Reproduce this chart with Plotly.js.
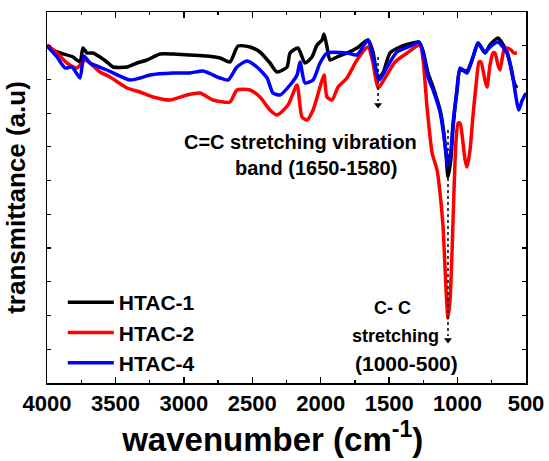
<!DOCTYPE html>
<html>
<head>
<meta charset="utf-8">
<script src="https://cdn.plot.ly/plotly-3.0.1.min.js"></script>
<style>html,body{margin:0;padding:0;background:#fff;}#chart{width:549px;height:461px;}</style>
</head>
<body>
<div id="chart"></div>
<script>
// Series names
const seriesNames = ["HTAC-1", "HTAC-2", "HTAC-4"];
const seriesColors = ["#000000", "#ff0000", "#0000ff"];

// HTAC-1 (black): wavenumber (cm-1) and transmittance (a.u.)
const wnHTAC1 = [4000,3956,3905,3810,3759,3737,3708,3664,3613,3562,3518,3415,3342,3269,3174,3079,2955,2831,2736,2663,2604,2517,2444,2371,2319,2246,2224,2166,2115,2064,2027,1990,1976,1954,1932,1881,1808,1735,1654,1618,1581,1545,1494,1421,1326,1282,1252,1216,1179,1128,1106,1084,1070,1048,1033,1004,982,931,887,850,800,763,705,639,610,595,580,566];
const trHTAC1 = [337,333,330,326,321,335,330,330,326,321,316,316,320,323,329,329,328,327,325,321,337,336,331,320,311,316,330,335,320,326,338,343,349,336,323,326,330,335,343,331,305,310,330,336,340,341,332,310,296,273,256,228,206,225,256,293,313,312,326,340,330,338,345,331,315,305,298,295];

// HTAC-2 (red)
const wnHTAC2 = [4000,3927,3854,3781,3722,3686,3613,3540,3415,3320,3225,3101,2977,2882,2787,2663,2612,2517,2444,2371,2319,2239,2173,2137,2100,2056,2005,1976,1954,1917,1873,1808,1735,1654,1618,1581,1530,1457,1369,1274,1252,1223,1186,1150,1128,1106,1084,1070,1055,1040,1026,1011,996,982,967,945,931,909,887,865,843,829,800,785,763,741,727,705,690,661,639,610,588,566];
const trHTAC2 = [338,330,320,315,323,320,311,306,295,291,286,283,288,290,283,281,293,293,286,273,268,278,298,266,263,273,296,308,286,283,296,305,323,336,320,295,305,321,330,338,323,276,230,213,190,156,93,65,83,133,193,243,260,260,248,223,216,233,268,298,321,321,303,296,318,330,330,318,313,333,335,333,330,330];

// HTAC-4 (blue)
const wnHTAC4 = [4000,3927,3868,3817,3759,3730,3686,3562,3394,3320,3247,3079,2955,2860,2736,2677,2612,2539,2466,2392,2349,2297,2224,2173,2151,2115,2056,2005,1954,1808,1735,1654,1618,1574,1515,1443,1326,1282,1252,1216,1179,1128,1106,1084,1070,1048,1033,1004,982,931,887,850,800,756,705,639,610,595,566,552,530,500];
const trHTAC4 = [337,326,315,316,305,327,320,313,303,305,308,310,310,312,305,303,316,322,316,305,290,288,298,308,321,300,303,320,330,330,328,343,326,303,316,331,338,341,330,306,293,271,253,230,216,233,260,293,315,310,326,340,331,337,341,330,316,305,280,273,282,290];

// x-axis tick labels
const xTickVals = [4000,3500,3000,2500,2000,1500,1000,500];
const xTickText = ["4000","3500","3000","2500","2000","1500","1000","500"];

// Annotation texts and marked bands (dotted line top, arrow tip)
const ccBandLines = ["C=C stretching vibration", "band (1650-1580)"];
const ccStretchLines = ["C- C", "stretching", "(1000-500)"];
const bandMarks = [1581, 1070];
const markTop = [326, 253];
const markTip = [278, 43];

const FONT = "Liberation Sans, Arial, sans-serif";
const xs = [wnHTAC1, wnHTAC2, wnHTAC4];
const ys = [trHTAC1, trHTAC2, trHTAC4];

const traces = seriesNames.map((n, i) => ({
  type: "scatter", mode: "lines", name: n,
  x: xs[i], y: ys[i],
  line: {color: seriesColors[i], width: 3.5, shape: "spline", smoothing: 0.6}
}));

// arrowheads at the end of the dotted marker lines
traces.push({
  type: "scatter", mode: "markers", showlegend: false, hoverinfo: "skip",
  x: bandMarks, y: markTip,
  marker: {symbol: "triangle-down", size: 7, color: "#000"}
});

const layout = {
  width: 549, height: 461,
  margin: {l: 47, r: 23, t: 12, b: 78},
  paper_bgcolor: "#fff", plot_bgcolor: "#fff",
  font: {family: FONT, color: "#000"},
  showlegend: true,
  legend: {
    x: 0.033, y: 0.272, xanchor: "left", yanchor: "top",
    bgcolor: "rgba(0,0,0,0)", borderwidth: 0,
    font: {family: FONT, size: 21, weight: "bold", color: "#000"},
    itemwidth: 46
  },
  xaxis: {
    range: [4000, 500], autorange: false,
    tickvals: xTickVals, ticktext: xTickText,
    ticks: "inside", ticklen: 6, tickwidth: 1.5, tickcolor: "#000",
    minor: {dtick: 250, tick0: 0, ticks: "inside", ticklen: 3, tickwidth: 1.2, tickcolor: "#000", showgrid: false},
    showline: true, linewidth: 1.5, linecolor: "#000", mirror: "allticks",
    showgrid: false, zeroline: false,
    tickfont: {family: FONT, size: 22, weight: "bold", color: "#000"},
    title: {text: "wavenumber (cm<sup>-1</sup>)&nbsp;&nbsp;&nbsp;", font: {family: FONT, size: 33, weight: "bold", color: "#000"}, standoff: 4}
  },
  yaxis: {
    range: [0, 371], autorange: false,
    tick0: 0, dtick: 33.73,
    ticks: "inside", ticklen: 4, tickwidth: 1.2, tickcolor: "#000",
    showticklabels: false,
    showline: true, linewidth: 1.5, linecolor: "#000", mirror: "allticks",
    showgrid: false, zeroline: false,
    title: {text: "transmittance (a.u)", font: {family: FONT, size: 26, weight: "bold", color: "#000"}, standoff: 12}
  },
  shapes: [0, 1].map(i => ({
    type: "line", xref: "x", yref: "y",
    x0: bandMarks[i], x1: bandMarks[i], y0: markTop[i], y1: markTip[i] + 4,
    line: {color: "#000", width: 1.5, dash: "dot"}, layer: "above"
  })),
  annotations: [
    {xref: "x", yref: "y", x: 2150, y: 241, text: ccBandLines[0], showarrow: false, font: {family: FONT, size: 20, weight: "bold", color: "#000"}},
    {xref: "x", yref: "y", x: 2034, y: 215, text: ccBandLines[1], showarrow: false, font: {family: FONT, size: 20, weight: "bold", color: "#000"}},
    {xref: "x", yref: "y", x: 1479, y: 75, text: ccStretchLines[0], showarrow: false, font: {family: FONT, size: 18, weight: "bold", color: "#000"}},
    {xref: "x", yref: "y", x: 1453, y: 47, text: ccStretchLines[1], showarrow: false, font: {family: FONT, size: 18, weight: "bold", color: "#000"}},
    {xref: "x", yref: "y", x: 1370, y: 20, text: ccStretchLines[2], showarrow: false, font: {family: FONT, size: 21, weight: "bold", color: "#000"}}
  ]
};

Plotly.newPlot("chart", traces, layout, {staticPlot: true, displayModeBar: false});
</script>
</body>
</html>
